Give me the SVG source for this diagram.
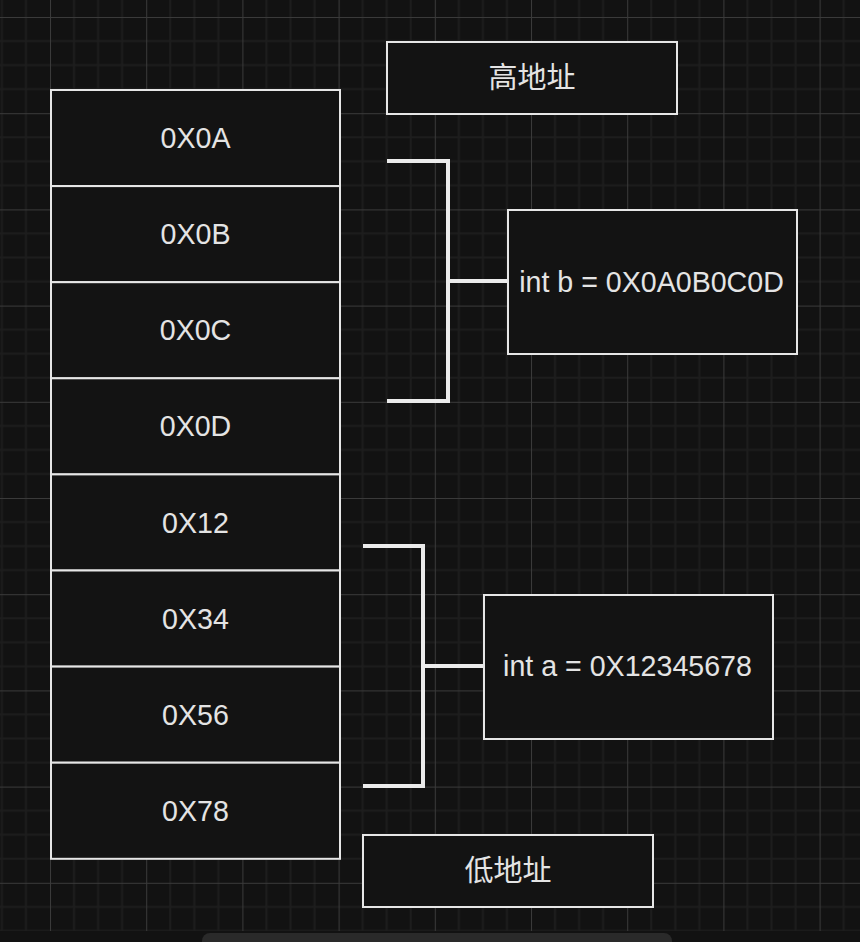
<svg xmlns="http://www.w3.org/2000/svg" width="860" height="942" viewBox="0 0 860 942">
  <style>
    .cell rect, .box rect { fill: #131313; stroke: #e6e6e6; stroke-width: 2; }
    .lbl { font-family: "Liberation Sans", Arial, sans-serif; font-size: 28.6px; fill: #e4e4e4; text-anchor: middle; }
    .cjk { font-family: "Liberation Sans", "Noto Sans CJK SC", sans-serif; font-size: 29px; fill: #e4e4e4; text-anchor: middle; }
    .br { fill: none; stroke: #ebebeb; stroke-width: 4; stroke-linejoin: miter; stroke-linecap: butt; }
  </style>
  <defs>
    <pattern id="grid" patternUnits="userSpaceOnUse" x="50" y="17" width="96.2" height="96.2">
      <path d="M24.05 0V96.2M48.1 0V96.2M72.15 0V96.2M0 24.05H96.2M0 48.1H96.2M0 72.15H96.2" stroke="#1d1d1d" stroke-width="2" fill="none"/>
      <path d="M0.5 0V96.2M0 0.5H96.2" stroke="#3a3a3a" stroke-width="1" fill="none"/>
    </pattern>
  </defs>
  <rect x="0" y="0" width="860" height="942" fill="#121212"/>
  <rect x="0" y="0" width="860" height="931" fill="url(#grid)"/>
  <rect x="202" y="933" width="470" height="22" rx="8" fill="#2a2a2a"/>

  <g id="connectors">
    <path class="br" d="M387 161H448V401H387M448 281H508"/>
    <path class="br" d="M363 546H423V786H363M423 666H484"/>
  </g>

  <g id="cell-0A" class="cell"><rect x="51" y="90" width="289" height="96.1"/><text class="lbl" x="195.5" y="148">0X0A</text></g>
  <g id="cell-0B" class="cell"><rect x="51" y="186.1" width="289" height="96.1"/><text class="lbl" x="195.5" y="244">0X0B</text></g>
  <g id="cell-0C" class="cell"><rect x="51" y="282.2" width="289" height="96.1"/><text class="lbl" x="195.5" y="340">0X0C</text></g>
  <g id="cell-0D" class="cell"><rect x="51" y="378.3" width="289" height="96.1"/><text class="lbl" x="195.5" y="436">0X0D</text></g>
  <g id="cell-12" class="cell"><rect x="51" y="474.4" width="289" height="96.1"/><text class="lbl" x="195.5" y="533">0X12</text></g>
  <g id="cell-34" class="cell"><rect x="51" y="570.5" width="289" height="96.1"/><text class="lbl" x="195.5" y="629">0X34</text></g>
  <g id="cell-56" class="cell"><rect x="51" y="666.6" width="289" height="96.1"/><text class="lbl" x="195.5" y="725">0X56</text></g>
  <g id="cell-78" class="cell"><rect x="51" y="762.7" width="289" height="96.1"/><text class="lbl" x="195.5" y="821">0X78</text></g>

  <g id="high-addr" class="box"><rect x="387" y="42" width="290" height="72"/><text class="cjk" x="532" y="88">高地址</text></g>
  <g id="low-addr" class="box"><rect x="363" y="835" width="290" height="72"/><text class="cjk" x="508" y="881">低地址</text></g>
  <g id="int-b" class="box"><rect x="508" y="210" width="289" height="144"/><text class="lbl" x="651.5" y="292">int b = 0X0A0B0C0D</text></g>
  <g id="int-a" class="box"><rect x="484" y="595" width="289" height="144"/><text class="lbl" x="627.5" y="676">int a = 0X12345678</text></g>
</svg>
